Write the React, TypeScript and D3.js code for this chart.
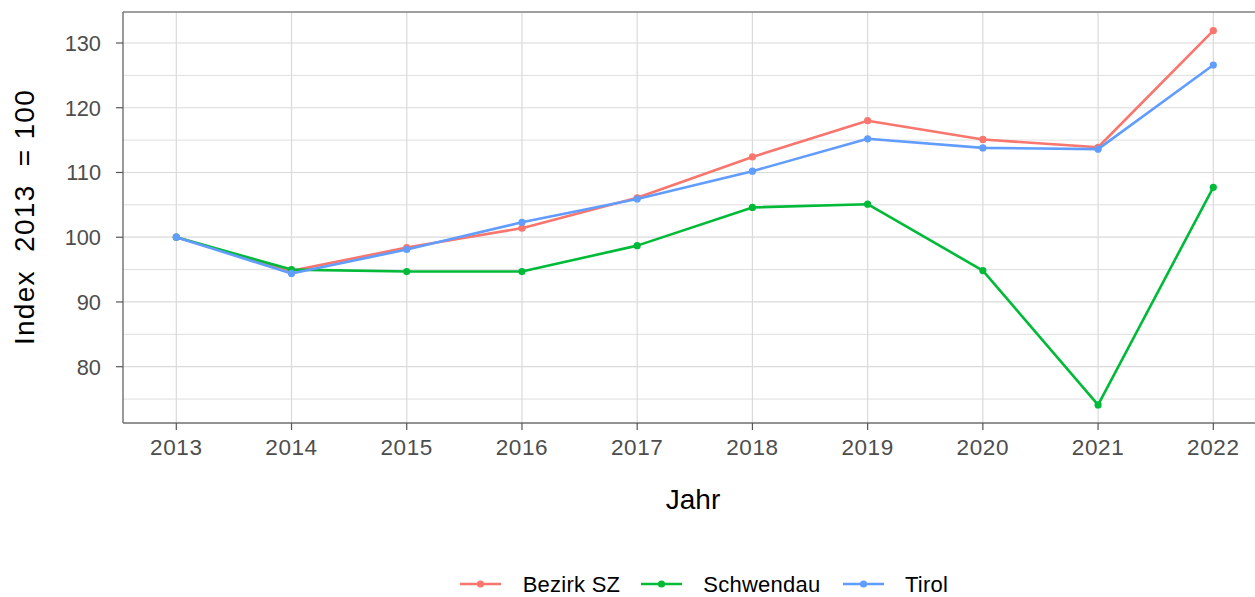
import React from "react";
import * as d3 from "d3";

const years = [2013, 2014, 2015, 2016, 2017, 2018, 2019, 2020, 2021, 2022];
const seriesNames = ["Bezirk SZ", "Schwendau", "Tirol"];
const bezirkSZ = [100, 94.8, 98.4, 101.4, 106.1, 112.4, 118.0, 115.1, 113.9, 131.9];
const schwendau = [100, 95.0, 94.7, 94.7, 98.7, 104.6, 105.1, 94.85, 74.1, 107.7];
const tirol = [100, 94.4, 98.1, 102.3, 105.9, 110.2, 115.2, 113.8, 113.6, 126.6];
const colors = ["#F8766D", "#00BA38", "#619CFF"];
const yTicks = [80, 90, 100, 110, 120, 130];
const yMinor = [75, 85, 95, 105, 115, 125];

export default function App() {
  const W = 1255, H = 597;
  const left = 123, right = 1266, top = 12, bottom = 423;
  const x = d3.scaleLinear().domain([2013, 2022]).range([176.3, 1213.3]);
  const y = d3.scaleLinear().domain([80, 130]).range([366.7, 43]);
  const data = [bezirkSZ, schwendau, tirol];
  const line = d3.line<number>().x((_, i) => x(years[i])).y((d) => y(d));
  const font = "'Liberation Sans', Arial, sans-serif";
  const legendX = [460, 641, 843];
  const legendTextX = [522.7, 703.3, 905];
  return (
    <svg width={W} height={H} style={{ position: "absolute", left: 0, top: 0, background: "#fff" }} fontFamily={font}>
      <defs>
        <clipPath id="panel">
          <rect x={left} y={top} width={right - left} height={bottom - top} />
        </clipPath>
      </defs>
      <rect x={0} y={0} width={W} height={H} fill="#fff" />
      {yMinor.map((v) => (
        <line key={"m" + v} x1={left} x2={right} y1={y(v)} y2={y(v)} stroke="#DEDEDE" strokeWidth={1} />
      ))}
      {yTicks.map((v) => (
        <line key={"g" + v} x1={left} x2={right} y1={y(v)} y2={y(v)} stroke="#DADADA" strokeWidth={1.2} />
      ))}
      {years.map((yr) => (
        <line key={"gx" + yr} x1={x(yr)} x2={x(yr)} y1={top} y2={bottom} stroke="#DADADA" strokeWidth={1.2} />
      ))}
      <g clipPath="url(#panel)">
        {data.map((s, k) => (
          <g key={seriesNames[k]}>
            <path d={line(s) || ""} fill="none" stroke={colors[k]} strokeWidth={2.6} strokeLinejoin="round" />
            {s.map((v, i) => (
              <circle key={i} cx={x(years[i])} cy={y(v)} r={3.6} fill={colors[k]} />
            ))}
          </g>
        ))}
      </g>
      <line x1={left} x2={right} y1={top} y2={top} stroke="#808080" strokeWidth={1.3} />
      <line x1={left} x2={left} y1={top} y2={bottom} stroke="#6E6E6E" strokeWidth={1.4} />
      <line x1={left} x2={right} y1={bottom} y2={bottom} stroke="#6E6E6E" strokeWidth={1.4} />
      {yTicks.map((v) => (
        <g key={"yt" + v}>
          <line x1={left - 7} x2={left} y1={y(v)} y2={y(v)} stroke="#555" strokeWidth={1.2} />
          <text x={101} y={y(v) + 7.8} textAnchor="end" fontSize={21.8} fill="#4D4D4D">{v}</text>
        </g>
      ))}
      {years.map((yr) => (
        <g key={"xt" + yr}>
          <line x1={x(yr)} x2={x(yr)} y1={bottom} y2={bottom + 7} stroke="#555" strokeWidth={1.2} />
          <text x={x(yr)} y={455} textAnchor="middle" fontSize={22.5} letterSpacing={0.6} fill="#4D4D4D">{yr}</text>
        </g>
      ))}
      <text x={693} y={509} textAnchor="middle" fontSize={28} fill="#000">Jahr</text>
      <text transform={`translate(34,217) rotate(-90)`} textAnchor="middle" fontSize={28} letterSpacing={1.3} fill="#000" style={{ whiteSpace: "pre" }}>
        {"Index  2013  = 100"}
      </text>
      {seriesNames.map((n, k) => (
        <g key={"lg" + n}>
          <line x1={legendX[k]} x2={legendX[k] + 41} y1={584} y2={584} stroke={colors[k]} strokeWidth={2.6} />
          <circle cx={legendX[k] + 20.5} cy={584} r={3.6} fill={colors[k]} />
          <text x={legendTextX[k]} y={592} fontSize={22} letterSpacing={0.25} fill="#000">{n}</text>
        </g>
      ))}
    </svg>
  );
}
